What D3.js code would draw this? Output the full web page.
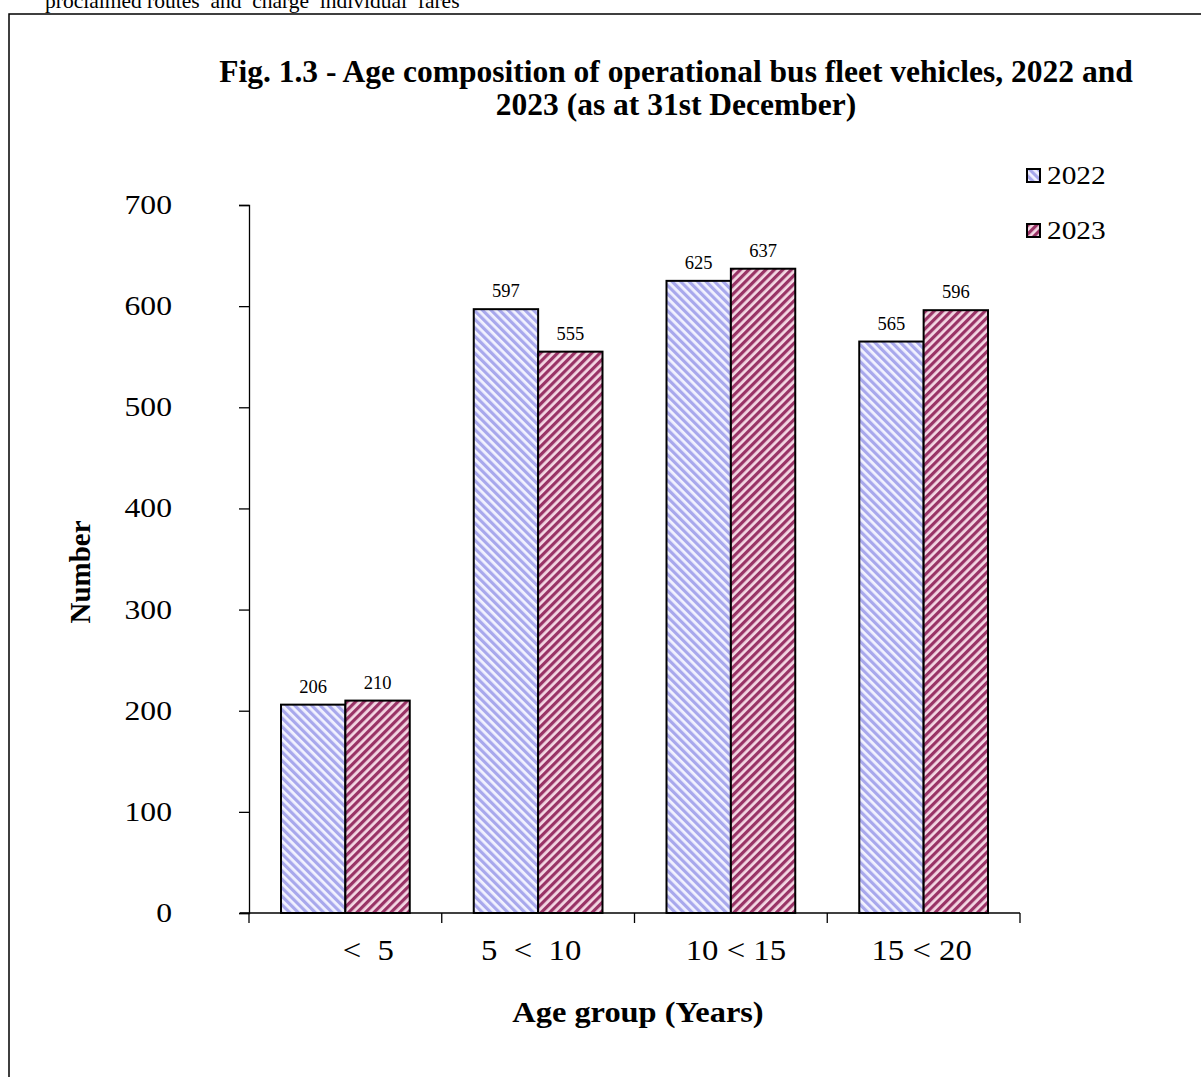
<!DOCTYPE html>
<html>
<head>
<meta charset="utf-8">
<script src="https://cdn.jsdelivr.net/npm/d3@7"></script>
<style>
  body { margin: 0; background: #fff; }
  text { font-family: "Liberation Serif", "Times New Roman", serif; fill: #000; }
</style>
</head>
<body>
<div id="root"></div>
<script>
const categories = ["<\u00a0\u00a05", "5\u00a0\u00a0<\u00a0\u00a010", "10 < 15", "15 < 20"];
const years = ["2022", "2023"];
const values2022 = [206, 597, 625, 565];
const values2023 = [210, 555, 637, 596];
const yTicks = [0, 100, 200, 300, 400, 500, 600, 700];

const w = 1201;
const h = 1077;
const padLeft = 249, padRight = 1020, padTop = 205, padBottom = 913;
const stretch = 1.13;

const svg = d3.select("#root").append("svg")
    .attr("width", w)
    .attr("height", h);

// stripe patterns
const defs = svg.append("defs");
function stripe(id, color, bg, dir) {
    const p = defs.append("pattern")
        .attr("id", id)
        .attr("patternUnits", "userSpaceOnUse")
        .attr("width", 6).attr("height", 6)
        .attr("patternTransform", "rotate(" + dir + ")");
    p.append("rect").attr("width", 6).attr("height", 6).attr("fill", bg);
    p.append("rect").attr("width", 3.2).attr("height", 6).attr("fill", color);
}
stripe("p2022", "#a8a8ec", "#f2f2ff", -45);
stripe("p2023", "#993366", "#f4d8e4", 45);

// page text cut off at the top
svg.append("text")
    .attr("x", 45).attr("y", 8)
    .style("font-size", "21.5px")
    .attr("xml:space", "preserve")
    .text("proclaimed routes  and  charge  individual  fares");

// frame
svg.append("rect")
    .attr("x", 9).attr("y", 14)
    .attr("width", 1300).attr("height", 1200)
    .attr("fill", "none")
    .attr("stroke", "#000")
    .attr("stroke-width", 1.5);

// title
const title = svg.append("text")
    .attr("text-anchor", "middle")
    .style("font-size", "31.5px")
    .style("font-weight", "bold");
title.append("tspan").attr("x", 676).attr("y", 82)
    .text("Fig. 1.3 - Age composition of operational  bus fleet vehicles, 2022 and");
title.append("tspan").attr("x", 676).attr("y", 115)
    .text("2023 (as at 31st December)");

const x0 = d3.scaleBand()
    .domain(categories)
    .range([padLeft, padRight]);

const x1 = d3.scaleBand()
    .domain(years)
    .range([32, x0.bandwidth() - 32]);

const y = d3.scaleLinear()
    .domain([0, 700])
    .range([padBottom, padTop]);

// y-axis
const yAxis = d3.axisLeft(y).tickValues(yTicks).tickSize(10).tickFormat("");
svg.append("g")
    .attr("transform", "translate(" + padLeft + ",0)")
    .call(yAxis)
    .call(g => g.selectAll("path, line").attr("stroke", "#000").attr("stroke-width", 1.3));

svg.append("g").selectAll("g")
    .data(yTicks)
    .enter().append("g")
    .attr("transform", d => "translate(172," + (y(d) + 9) + ") scale(" + stretch + ",1)")
    .append("text")
    .attr("text-anchor", "end")
    .style("font-size", "28px")
    .text(d => d);

// x-axis
const xAxis = d3.axisBottom(x0).tickSize(0).tickFormat("");
svg.append("g")
    .attr("transform", "translate(0," + padBottom + ")")
    .call(xAxis)
    .call(g => g.select(".domain").attr("d", "M" + (padLeft - 9) + ",0H" + padRight))
    .call(g => g.selectAll("path").attr("stroke", "#000").attr("stroke-width", 1.3));

// x tick marks at category boundaries
const bounds = categories.map(c => x0(c)).concat([padRight]);
svg.append("g").selectAll("line")
    .data(bounds)
    .enter().append("line")
    .attr("x1", d => d)
    .attr("x2", d => d)
    .attr("y1", padBottom)
    .attr("y2", padBottom + 10)
    .attr("stroke", "#000")
    .attr("stroke-width", 1.3);

// category labels
const catOffset = [23, -7, 5, -2];
svg.append("g").selectAll("g")
    .data(categories)
    .enter().append("g")
    .attr("transform", (d, i) => "translate(" + (x0(d) + x0.bandwidth() / 2 + catOffset[i]) + ",960) scale(" + stretch + ",1)")
    .append("text")
    .attr("text-anchor", "middle")
    .style("font-size", "29px")
    .text(d => d);

// bars
const rows = categories.map((c, i) => ({ cat: c, vals: [values2022[i], values2023[i]] }));
const groups = svg.append("g").selectAll("g")
    .data(rows)
    .enter().append("g")
    .attr("transform", d => "translate(" + x0(d.cat) + ",0)");

groups.selectAll("rect")
    .data(d => d.vals.map((v, j) => ({ year: years[j], v: v })))
    .enter().append("rect")
    .attr("x", d => x1(d.year))
    .attr("y", d => y(d.v))
    .attr("width", x1.bandwidth())
    .attr("height", d => padBottom - y(d.v))
    .attr("fill", d => "url(#p" + d.year + ")")
    .attr("stroke", "#000")
    .attr("stroke-width", 2);

groups.selectAll("text")
    .data(d => d.vals.map((v, j) => ({ year: years[j], v: v })))
    .enter().append("text")
    .attr("x", d => x1(d.year) + x1.bandwidth() / 2)
    .attr("y", d => y(d.v) - 12)
    .attr("text-anchor", "middle")
    .style("font-size", "18.5px")
    .text(d => d.v);

// axis titles
svg.append("g")
    .attr("transform", "translate(638,1022) scale(1.08,1)")
    .append("text")
    .attr("text-anchor", "middle")
    .style("font-size", "30px")
    .style("font-weight", "bold")
    .text("Age group (Years)");

svg.append("text")
    .attr("transform", "translate(90,572) rotate(-90)")
    .attr("text-anchor", "middle")
    .style("font-size", "29px")
    .style("font-weight", "bold")
    .text("Number");

// legend
const legend = svg.append("g").selectAll("g")
    .data(years)
    .enter().append("g")
    .attr("transform", (d, i) => "translate(1027," + (169 + i * 55) + ")");
legend.append("rect")
    .attr("width", 13).attr("height", 13)
    .attr("fill", d => "url(#p" + d + ")")
    .attr("stroke", "#000")
    .attr("stroke-width", 2);
legend.append("g")
    .attr("transform", "translate(20,15) scale(" + stretch + ",1)")
    .append("text")
    .style("font-size", "26px")
    .text(d => d);
</script>
</body>
</html>
